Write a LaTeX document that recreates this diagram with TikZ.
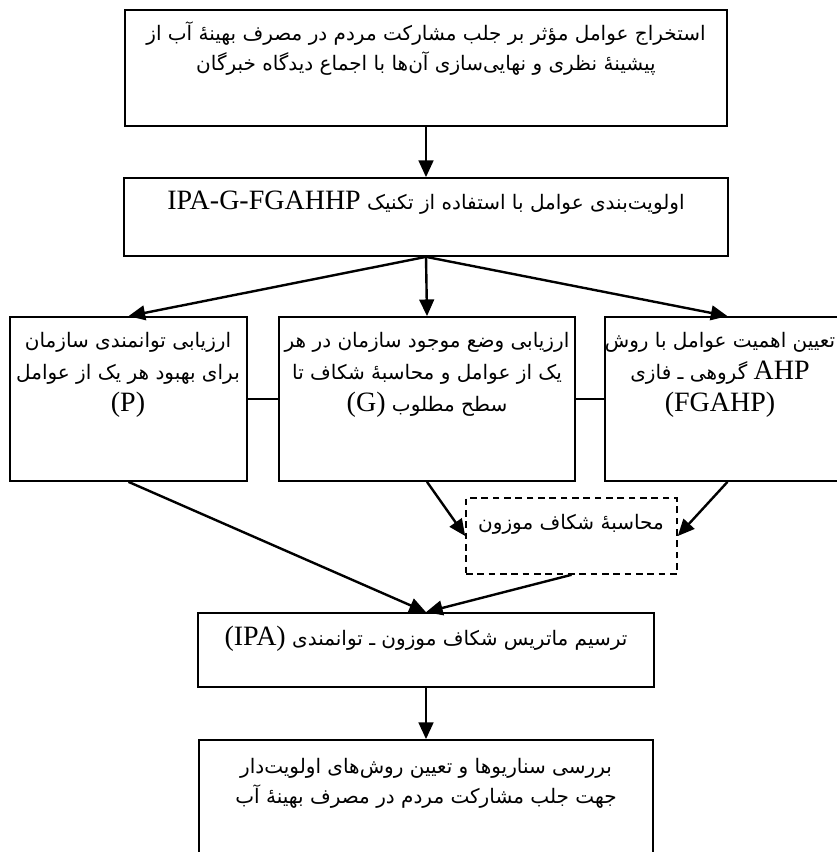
\documentclass[tikz,border=0pt]{standalone}
\usepackage{fontspec}
\setmainfont{Liberation Serif}
\newfontfamily\fa[Script=Arabic]{DejaVu Sans}
\TeXXeTstate=1
\usetikzlibrary{arrows.meta,fit}
\newcommand{\lat}[1]{\beginL{\normalfont\fontsize{21}{22.5}\selectfont #1}\endL}
\newcommand{\rl}[1]{\beginR #1\endR}
\begin{document}
\begin{tikzpicture}[x=0.75pt,y=-0.75pt,
  box/.style={draw, line width=1.3pt, inner sep=0pt},
  dbox/.style={draw, line width=1.2pt, inner sep=0pt, dash pattern=on 5pt off 3.5pt},
  arr/.style={line width=1.8pt, -{Triangle[length=12.5pt,width=11pt]}},
  link/.style={line width=0.8pt},
  txt/.style={inner sep=0pt, align=center, font=\fa\fontsize{15}{22.5}\selectfont},
  mtxt/.style={txt, font=\fa\fontsize{15}{24}\selectfont}]
\useasboundingbox (0,0) rectangle (837,852);
\clip (0,0) rectangle (837,852);
\fill[white] (0,0) rectangle (837,852);
% boxes
\node[box, fit={(125,10) (727,126)}] (b1) {};
\node[box, fit={(124,178) (728,256)}] (b2) {};
\node[box, fit={(10,317) (247,481)}] (pl) {};
\node[box, fit={(279,317) (575,481)}] (gc) {};
\node[box, fit={(605,317) (850,481)}] (fr) {};
\node[dbox, fit={(466,498) (677,574)}] (dw) {};
\node[box, fit={(198,613) (654,687)}] (ipa) {};
\node[box, fit={(199,740) (653,880)}] (last) {};
% texts
\node[txt, anchor=north] (t1) at (426,21) {\rl{استخراج عوامل مؤثر بر جلب مشارکت مردم در مصرف بهینهٔ آب از}\\\rl{پیشینهٔ نظری و نهایی‌سازی آن‌ها با اجماع دیدگاه خبرگان}};
\node[txt] (t2) at (426,203) {\rl{اولویت‌بندی عوامل با استفاده از تکنیک \lat{IPA-G-FGAHHP}}};
\begin{scope}
\clip (10,317) rectangle (247,481);
\node[mtxt, anchor=north] (tp) at (128,332) {\rl{ارزیابی توانمندی سازمان}\\\rl{برای بهبود هر یک از عوامل}\\\lat{(P)}};
\end{scope}
\begin{scope}
\clip (279,317) rectangle (575,481);
\node[mtxt, anchor=north] (tg) at (427,332) {\rl{ارزیابی وضع موجود سازمان در هر}\\\rl{یک از عوامل و محاسبهٔ شکاف تا}\\\rl{سطح مطلوب \lat{(G)}}};
\end{scope}
\begin{scope}
\clip (605,317) rectangle (850,481);
\node[mtxt, anchor=north] (tf) at (720,332) {\rl{تعیین اهمیت عوامل با روش}\\\rl{\lat{AHP} گروهی ـ فازی}\\\lat{(FGAHP)}};
\end{scope}
\node[txt] (td) at (571,524) {\rl{محاسبهٔ شکاف موزون}};
\node[txt] (ti) at (426,639) {\rl{ترسیم ماتریس شکاف موزون ـ توانمندی \lat{(IPA)}}};
\node[txt, anchor=north] (tl) at (426,758) {\rl{بررسی سناریوها و تعیین روش‌های اولویت‌دار}\\\rl{جهت جلب مشارکت مردم در مصرف بهینهٔ آب}};
% connectors
\draw[arr] (b1.south) -- (b2.north);
\draw[arr] (b2.south) -- (pl.north);
\draw[arr] (b2.south) -- (gc.north);
\draw[arr] (b2.south) -- (fr.north);
\draw[link] (pl.east) -- (gc.west);
\draw[link] (gc.east) -- (fr.west);
\draw[arr] (gc.south) -- (dw.west);
\draw[arr] (fr.south) -- (dw.east);
\draw[arr] (pl.south) -- (ipa.north);
\draw[arr] (dw.south) -- (ipa.north);
\draw[arr] (ipa.south) -- (last.north);
\end{tikzpicture}
\end{document}
